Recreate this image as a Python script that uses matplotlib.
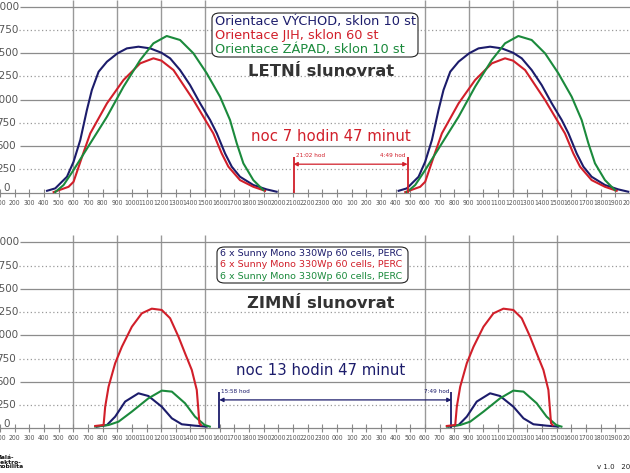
import matplotlib
matplotlib.use('Agg')
import matplotlib.pyplot as plt
from matplotlib import font_manager as fm
from matplotlib.patches import FancyBboxPatch

W, H = 630, 473

NAVY = '#1c1c6b'
RED = '#d11f2a'
GREEN = '#1b8a3c'
GRID = '#999999'
TXT = '#555555'

# --- LETNÍ slunovrat (summer solstice), hour of day -> W ---
sum_east_h = [4.21, 4.77, 5.57, 6.02, 6.48, 6.93, 7.27, 7.73, 8.3, 9.02, 9.66, 10.45, 11.25,
              12.02, 12.61, 13.29, 13.97, 14.66, 15.34, 15.8, 16.36, 16.82, 17.38, 18.29,
              19.2, 19.88]
sum_east_w = [19, 45, 170, 331, 565, 887, 1102, 1299, 1407, 1497, 1550, 1568, 1550,
              1503, 1443, 1317, 1156, 959, 780, 636, 421, 278, 170, 81, 34, 9]

sum_south_h = [4.66, 5.68, 6.02, 6.7, 7.16, 8.3, 9.43, 10.57, 11.47, 12.02, 12.84, 13.52,
               14.2, 14.88, 15.56, 16.13, 16.59, 17.38, 18.29, 19.09]
sum_south_w = [5, 62, 116, 430, 636, 959, 1210, 1389, 1443, 1418, 1317, 1156,
               995, 815, 636, 421, 278, 134, 62, 19]

sum_west_h = [4.77, 5.34, 6.02, 7.16, 8.3, 9.43, 10.57, 11.47, 12.38, 13.29, 14.2, 15.11,
              16.02, 16.7, 17.16, 17.61, 18.29, 18.97]
sum_west_w = [5, 81, 242, 529, 815, 1138, 1425, 1604, 1683, 1640, 1497, 1282,
              1030, 780, 529, 314, 134, 27]

# --- ZIMNÍ slunovrat (winter solstice) ---
win_east_h = [7.61, 8.3, 8.86, 9.54, 10.45, 11.13, 12.04, 12.73, 13.41, 14.31, 15.11]
win_east_w = [18, 35, 125, 287, 376, 347, 232, 107, 43, 28, 18]

win_south_h = [7.5, 8.07, 8.18, 8.41, 8.86, 9.32, 10.0, 10.68, 11.36, 12.04, 12.61, 13.18,
               13.63, 14.09, 14.43, 14.54, 14.61, 14.72]
win_south_w = [25, 35, 232, 447, 699, 877, 1092, 1236, 1286, 1272, 1183, 985,
               806, 627, 412, 197, 54, 35]

win_west_h = [7.5, 8.41, 9.09, 10.0, 11.13, 12.04, 12.73, 13.63, 14.31, 14.97, 15.32]
win_west_w = [18, 35, 71, 179, 322, 405, 394, 269, 125, 35, 18]

# night spans (hour, next-day hour)
sum_night = (21 + 2 / 60, 24 + 4 + 49 / 60)
win_night = (15 + 58 / 60, 24 + 7 + 49 / 60)

legend_sum = ['Orientace VÝCHOD, sklon 10 st', 'Orientace JIH, sklon 60 st',
              'Orientace ZÁPAD, sklon 10 st']
legend_win = ['6 x Sunny Mono 330Wp 60 cells, PERC'] * 3
colors = [NAVY, RED, GREEN]

y_ticks = [0, 250, 500, 750, 1000, 1250, 1500, 1750, 2000]
hours = list(range(1, 45))

XMIN, XMAX = 1.023, 43.97

# narrow font for the hour labels, whatever is available
names = {f.name for f in fm.fontManager.ttflist}
if 'Liberation Sans Narrow' in names:
    TICK_FONT = dict(family='Liberation Sans Narrow', size=5.8)
elif any(f.name == 'DejaVu Sans' and 'condensed' in str(f.stretch)
         for f in fm.fontManager.ttflist):
    TICK_FONT = dict(family='DejaVu Sans', stretch='condensed', size=4.9)
else:
    TICK_FONT = dict(family='Liberation Sans', size=4.9)

fig = plt.figure(figsize=(W / 100, H / 100), dpi=100)


def fx(px):
    return px / W


def fy(py):
    return 1 - py / H


def setup(ax, ytop, ybot):
    ax.set_xlim(XMIN, XMAX)
    ax.set_ylim(ybot, ytop)
    for s in ['top', 'right', 'left']:
        ax.spines[s].set_visible(False)
    ax.spines['bottom'].set_position(('data', 0))
    ax.spines['bottom'].set_color('#888888')
    ax.spines['bottom'].set_linewidth(0.9)
    ax.set_yticks([])
    ax.set_xticks(hours)
    ax.set_xticklabels(['%d00' % (h % 24) for h in hours],
                       fontproperties=fm.FontProperties(**TICK_FONT), color=TXT)
    ax.tick_params(axis='x', direction='inout', length=6, width=0.8,
                   color='#888888', pad=2)
    # grid
    ax.vlines([6, 9, 12, 15, 30, 33, 36, 39], 0, ytop, color=GRID, lw=1.0, zorder=1)
    ax.hlines([500, 1000, 1500, 2000], 2.39, XMAX, color='#8c8c8c', lw=0.9, zorder=1)
    ax.hlines([250, 750, 1250, 1750], 2.3, XMAX, color='#9a9a9a', lw=0.9,
              linestyles=(0, (1, 2)), zorder=1)
    for v in y_ticks:
        ax.text(1.43, v if v else 45, str(v), ha='center', va='center',
                fontsize=7.5, color=TXT)


ax1 = fig.add_axes([0, fy(200), 1, 200 / H])
setup(ax1, 2070, -80)
ax2 = fig.add_axes([0, fy(436), 1, (436 - 235) / H])
setup(ax2, 2078, -83)

for off in (0, 24):
    ax1.plot([h + off for h in sum_east_h], sum_east_w, color=NAVY, lw=1.5, zorder=3)
    ax1.plot([h + off for h in sum_south_h], sum_south_w, color=RED, lw=1.5, zorder=3)
    ax1.plot([h + off for h in sum_west_h], sum_west_w, color=GREEN, lw=1.5, zorder=3)
    ax2.plot([h + off for h in win_east_h], win_east_w, color=NAVY, lw=1.5, zorder=3)
    ax2.plot([h + off for h in win_south_h], win_south_w, color=RED, lw=1.5, zorder=4)
    ax2.plot([h + off for h in win_west_h], win_west_w, color=GREEN, lw=1.5, zorder=3)


def night(ax, span, col, t1, t2, text, tx, ty):
    a, b = span
    ax.vlines([a, b], 0, 385, color=col, lw=1.3, zorder=3)
    ax.annotate('', xy=(a, 305), xytext=(b, 305),
                arrowprops=dict(arrowstyle='<|-|>', color=col, lw=0.9,
                                mutation_scale=6, shrinkA=0, shrinkB=0))
    small = fm.FontProperties(**dict(TICK_FONT, size=4.6))
    ax.text(a + 0.15, 400, t1, ha='left', va='center', fontproperties=small, color=col)
    ax.text(b - 0.15, 400, t2, ha='right', va='center', fontproperties=small, color=col)
    ax.text(tx, ty, text, ha='center', va='center', fontsize=10.7, color=col)


night(ax1, sum_night, RED, '21:02 hod', '4:49 hod', 'noc 7 hodin 47 minut', 23.59, 607)
night(ax2, win_night, NAVY, '15:58 hod', '7:49 hod', 'noc 13 hodin 47 minut', 22.9, 616)


def legend_box(x0, y0, x1, y1, lines, fs, step):
    box = FancyBboxPatch((fx(x0), fy(y1)), fx(x1 - x0), (y1 - y0) / H,
                         boxstyle='round,pad=0,rounding_size=0.012',
                         transform=fig.transFigure, fc='white', ec='#222222', lw=0.8,
                         zorder=5)
    fig.patches.append(box)
    for i, (t, c) in enumerate(zip(lines, colors)):
        fig.text(fx(x0 + 3), fy(y0 + step * (i + 0.5) + 1), t, color=c, fontsize=fs,
                 ha='left', va='center', zorder=6)


legend_box(212, 13, 418, 57, legend_sum, 9.3, 14.3)
legend_box(217, 247, 408, 283, legend_win, 6.8, 11.3)

fig.text(fx(321), fy(72), 'LETNÍ slunovrat', ha='center', va='center',
         fontsize=11.8, weight='bold', color='#333333')
fig.text(fx(321), fy(303), 'ZIMNÍ slunovrat', ha='center', va='center',
         fontsize=11.8, weight='bold', color='#333333')

fig.text(fx(-5), fy(455), 'Malá-\nelektro-\nmobilita', ha='left', va='top',
         fontsize=4.3, weight='bold', color='#111111', linespacing=0.9)
fig.text(fx(597), fy(467), 'v 1.0   2021', ha='left', va='center',
         fontsize=5, color='#222222')

fig.savefig('out.png', dpi=100)
